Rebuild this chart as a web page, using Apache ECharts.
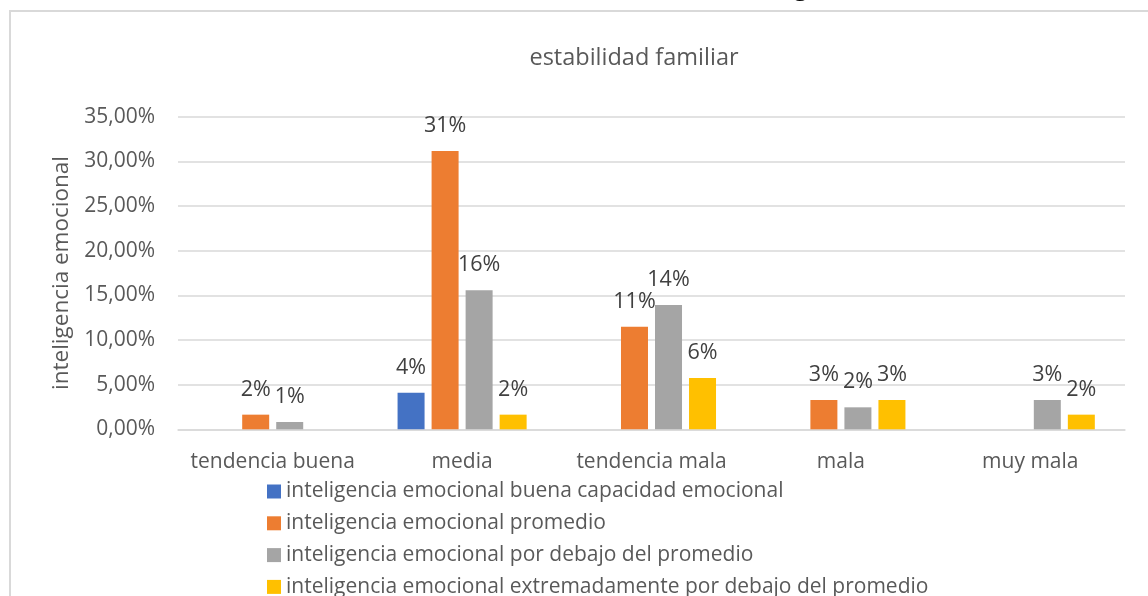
<!DOCTYPE html>
<html>
<head>
<meta charset="utf-8">
<script src="https://cdn.jsdelivr.net/npm/echarts@6/dist/echarts.min.js"></script>
<style>
  html, body { margin: 0; padding: 0; background: #fff; }
  #chart { width: 1148px; height: 596px; }
</style>
</head>
<body>
<div id="chart"></div>
<script>
// categorias (estabilidad familiar)
const categorias = ['tendencia buena', 'media', 'tendencia mala', 'mala', 'muy mala'];
// porcentajes por nivel de inteligencia emocional
const buenaCapacidad = [0, 4.10, 0, 0, 0];
const promedio = [1.64, 31.15, 11.48, 3.28, 0];
const debajoPromedio = [0.82, 15.57, 13.93, 2.46, 3.28];
const extremadamenteDebajo = [0, 1.64, 5.74, 3.28, 1.64];

const nombres = [
  'inteligencia emocional buena capacidad emocional',
  'inteligencia emocional promedio',
  'inteligencia emocional por debajo del promedio',
  'inteligencia emocional extremadamente por debajo del promedio'
];
const colores = ['#4472C4', '#ED7D31', '#A5A5A5', '#FFC000'];
const valores = [buenaCapacidad, promedio, debajoPromedio, extremadamenteDebajo];

const fuente = "'Open Sans', sans-serif";
const chart = echarts.init(document.getElementById('chart'));

chart.setOption({
  animation: false,
  textStyle: { fontFamily: fuente },
  title: {
    text: 'estabilidad familiar',
    left: 629,
    textAlign: 'center',
    top: 41,
    textStyle: { fontSize: 23.5, fontWeight: 'normal', color: '#595959', fontFamily: fuente }
  },
  graphic: [
    {
      type: 'rect',
      shape: { x: 10, y: 11, width: 1300, height: 800 },
      style: { fill: 'none', stroke: '#d9d9d9', lineWidth: 2 },
      silent: true
    },
    {
      type: 'text',
      left: 794,
      top: -23.8,
      style: { text: 'g', fontSize: 24, fontWeight: 'bold', fill: '#000', fontFamily: fuente }
    }
  ],
  legend: {
    orient: 'vertical',
    left: 262,
    top: 476,
    height: 160,
    itemWidth: 14,
    itemHeight: 14,
    itemGap: 10.8,
    icon: 'rect',
    data: nombres,
    textStyle: { fontSize: 21, lineHeight: 21, color: '#595959', fontFamily: fuente }
  },
  grid: { left: 178, right: 23, top: 116.7, bottom: 166.7, containLabel: false },
  xAxis: {
    type: 'category',
    data: categorias,
    axisLine: { lineStyle: { color: '#d9d9d9', width: 1.5 } },
    axisTick: { show: false },
    axisLabel: { interval: 0, fontSize: 21, color: '#595959', margin: 22, fontFamily: fuente }
  },
  yAxis: {
    type: 'value',
    min: 0,
    max: 35,
    interval: 5,
    name: 'inteligencia emocional',
    nameLocation: 'middle',
    nameGap: 104,
    nameTextStyle: { fontSize: 22.5, color: '#595959', fontFamily: fuente },
    axisLine: { show: false },
    axisTick: { show: false },
    splitLine: { lineStyle: { color: '#d9d9d9', width: 1.5 } },
    axisLabel: {
      fontSize: 21,
      color: '#595959',
      margin: 23,
      fontFamily: fuente,
      formatter: v => v.toFixed(2).replace('.', ',') + '%'
    }
  },
  series: valores.map((serie, i) => ({
    name: nombres[i],
    type: 'bar',
    data: serie,
    barWidth: 27,
    barGap: '26%',
    itemStyle: { color: colores[i] },
    label: {
      show: true,
      position: 'top',
      distance: 14,
      fontSize: 21.5,
      color: '#404040',
      fontFamily: fuente,
      formatter: p => (p.value > 0 ? Math.round(p.value) + '%' : '')
    }
  }))
});
</script>
</body>
</html>
